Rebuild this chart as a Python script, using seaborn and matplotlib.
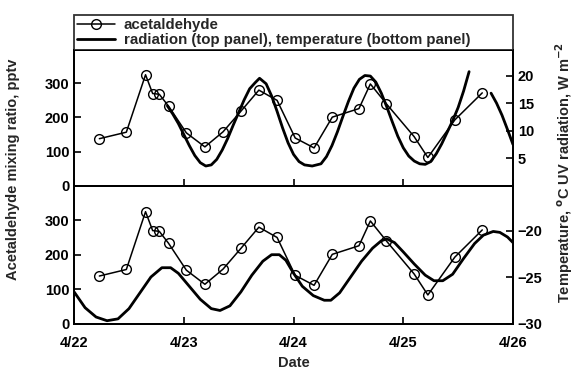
import numpy as np
import pandas as pd
import seaborn as sns
import matplotlib.pyplot as plt
from matplotlib.lines import Line2D

# days since 4/22 00:00
acet_day = [0.23, 0.476, 0.651, 0.716, 0.776, 0.861, 1.023, 1.192, 1.357, 1.522, 1.684,
            1.850, 2.015, 2.187, 2.353, 2.596, 2.700, 2.846, 3.099, 3.224, 3.470, 3.720]
acet_ppt = [138, 157, 325, 270, 268, 233, 155, 114, 158, 219, 280,
            250, 140, 111, 201, 226, 298, 240, 144, 83, 193, 272]

uv_day = [0.85, 0.90, 0.95, 1.00, 1.05, 1.10, 1.15, 1.20, 1.25, 1.30, 1.35, 1.40, 1.45,
          1.50, 1.55, 1.60, 1.65, 1.69, 1.75, 1.80, 1.85, 1.90, 1.95, 2.00, 2.05, 2.10,
          2.17, 2.25, 2.30, 2.35, 2.40, 2.45, 2.50, 2.55, 2.60, 2.65, 2.70, 2.75, 2.80,
          2.85, 2.90, 2.95, 3.00, 3.05, 3.10, 3.15, 3.20, 3.25, 3.30, 3.35, 3.40, 3.45,
          3.50, 3.55, 3.60,
          3.80, 3.85, 3.90, 3.95, 4.00]
uv_val = [14.5, 13.0, 11.3, 9.3, 7.3, 5.5, 4.2, 3.6, 3.8, 4.8, 6.5, 8.6, 11.0,
          13.3, 15.6, 17.6, 18.7, 19.5, 18.5, 16.3, 13.5, 10.5, 7.8, 5.7, 4.4, 3.8,
          3.6, 4.0, 5.3, 7.3, 9.8, 12.6, 15.3, 17.7, 19.3, 20.0, 19.9, 18.8, 16.8,
          14.3, 11.6, 9.0, 6.9, 5.4, 4.5, 4.0, 3.9, 4.4, 5.8, 7.6, 9.7, 11.8,
          14.2, 17.2, 20.7,
          16.8, 15.0, 12.8, 10.2, 7.5]
uv_seg = [1] * 55 + [2] * 5

temp_day = [0.00, 0.10, 0.20, 0.30, 0.40, 0.50, 0.60, 0.70, 0.80, 0.88, 0.95, 1.05,
            1.15, 1.25, 1.33, 1.42, 1.52, 1.62, 1.72, 1.80, 1.87, 1.93, 2.00, 2.08,
            2.18, 2.28, 2.34, 2.42, 2.52, 2.62, 2.72, 2.80, 2.85, 2.92, 3.00, 3.10,
            3.20, 3.28, 3.36, 3.45, 3.55, 3.65, 3.73, 3.82, 3.88, 3.95, 4.00]
temp_c = [-26.6, -28.3, -29.3, -29.7, -29.5, -28.4, -26.7, -25.0, -24.0, -24.0, -24.6, -26.0,
          -27.4, -28.4, -28.6, -28.1, -26.6, -24.8, -23.3, -22.6, -22.6, -23.2, -24.6, -26.0,
          -27.0, -27.5, -27.5, -26.7, -25.0, -23.3, -21.9, -21.1, -20.9, -21.3, -22.3, -23.6,
          -24.8, -25.4, -25.4, -24.7, -23.0, -21.4, -20.5, -20.1, -20.2, -20.7, -21.3]

date_ticks = [0, 1, 2, 3, 4]
date_labels = ["4/22", "4/23", "4/24", "4/25", "4/26"]

acet = pd.DataFrame({"day": acet_day, "ppt": acet_ppt})
uv = pd.DataFrame({"day": uv_day, "uv": uv_val, "seg": uv_seg})
temp = pd.DataFrame({"day": temp_day, "t": temp_c})

sns.set_style("ticks")
plt.rcParams['font.family'] = ['Liberation Sans', 'DejaVu Sans']
plt.rcParams['font.weight'] = 'bold'
plt.rcParams['xtick.direction'] = 'in'
plt.rcParams['ytick.direction'] = 'in'

fig = plt.figure(figsize=(5.79, 3.74), dpi=100)
L, R = 0.128, 0.886
ax1 = fig.add_axes([L, 0.503, R - L, 0.363])
ax2 = fig.add_axes([L, 0.135, R - L, 0.368])
ax1r = ax1.twinx()
ax2r = ax2.twinx()

mk = dict(marker="o", markersize=7, markerfacecolor="none", markeredgecolor="black",
          markeredgewidth=1.0, color="black", linewidth=1.1)

# top panel
sns.lineplot(data=uv, x="day", y="uv", units="seg", estimator=None, ax=ax1r,
             color="black", linewidth=2.0)
sns.lineplot(data=acet, x="day", y="ppt", ax=ax1, **mk)
# bottom panel
sns.lineplot(data=temp, x="day", y="t", ax=ax2r, color="black", linewidth=2.0)
sns.lineplot(data=acet, x="day", y="ppt", ax=ax2, **mk)

ax1.set_zorder(ax1r.get_zorder() + 1)
ax1.patch.set_visible(False)
ax2.set_zorder(ax2r.get_zorder() + 1)
ax2.patch.set_visible(False)

for a in (ax1, ax2, ax1r, ax2r):
    a.set_xlim(0, 4)
    a.set_xlabel("")
    a.set_ylabel("")
    for s in a.spines.values():
        s.set_linewidth(1.3)
        s.set_color("black")
    a.tick_params(width=1.2, length=5, labelsize=10.5, colors="black")

ax1.set_ylim(0, 397)
ax2.set_ylim(0, 400)
for a in (ax1, ax2):
    a.set_yticks([0, 100, 200, 300])
ax1r.set_ylim(0, 24.6)
ax1r.set_yticks([5, 10, 15, 20])
ax2r.set_ylim(-30, -15.2)
ax2r.set_yticks([-30, -25, -20])

ax1.set_xticks(date_ticks)
ax1.tick_params(axis="x", labelbottom=False)
ax2.set_xticks(date_ticks)
ax2.set_xticklabels(date_labels)
ax2.tick_params(axis="x", pad=9)

for a in (ax1, ax2, ax1r, ax2r):
    for lab in a.get_xticklabels() + a.get_yticklabels():
        lab.set_fontweight("bold")

handles = [Line2D([], [], **mk),
           Line2D([], [], color="black", linewidth=2.0)]
ax1.legend(handles, ["acetaldehyde", "radiation (top panel), temperature (bottom panel)"],
           loc="lower left", bbox_to_anchor=(0, 1, 1, 0.27), mode="expand",
           borderaxespad=0, frameon=True, fancybox=False, edgecolor="black",
           handlelength=2.5, handletextpad=0.6, labelspacing=0.05,
           prop={"size": 10.8, "weight": "bold"}, borderpad=0.2)
ax1.get_legend().get_frame().set_linewidth(1.3)

fig.text(0.022, 0.548, "Acetaldehyde mixing ratio, pptv", rotation=90, ha="center",
         va="center", fontsize=10.5, fontweight="bold")
fig.text(0.975, 0.54, "Temperature, $^{\\mathrm{o}}$C UV radiation, W m$^{\\mathbf{-2}}$",
         rotation=90, ha="center", va="center", fontsize=10.5, fontweight="bold")
fig.text(0.507, 0.03, "Date", ha="center", va="center", fontsize=10.5, fontweight="bold")

fig.savefig("out.png", dpi=100)
